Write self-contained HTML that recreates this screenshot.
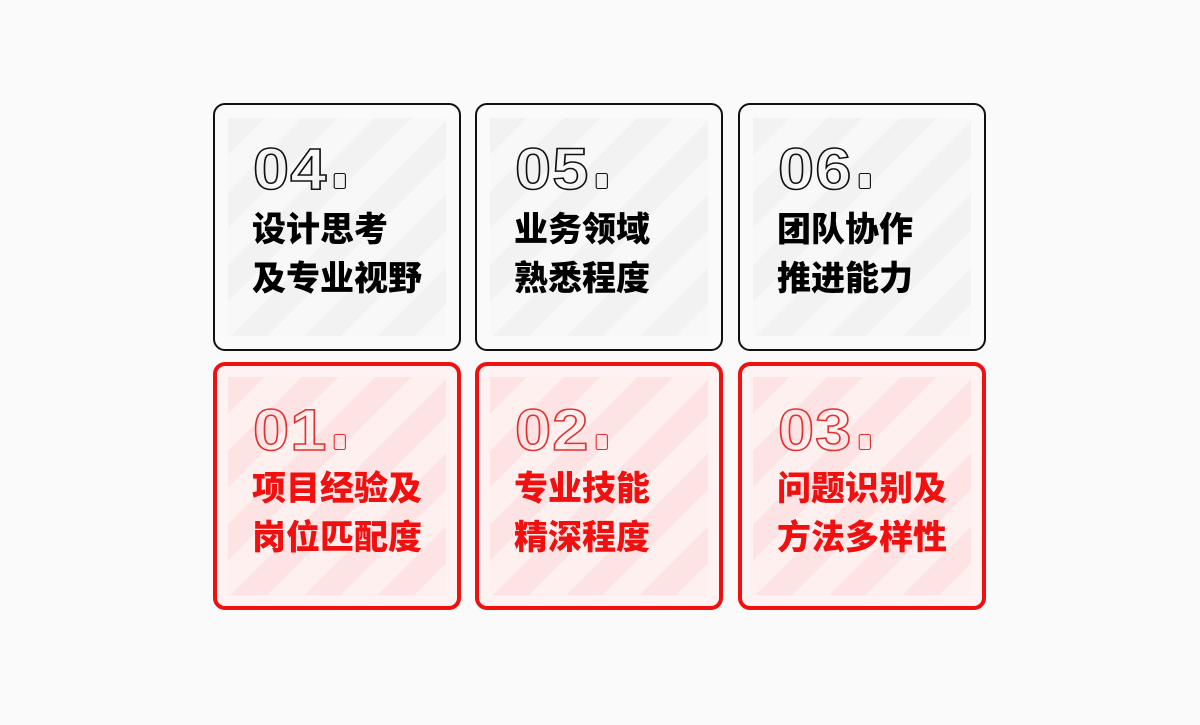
<!DOCTYPE html>
<html><head><meta charset="utf-8"><style>
body{margin:0;width:1200px;height:725px;background:#fafafa;position:relative;overflow:hidden;font-family:"Liberation Sans","Noto Sans CJK SC",sans-serif}
.c{position:absolute;width:248px;height:248px;border:2.5px solid #111;border-radius:12px;background:#fafafa;box-sizing:border-box}
.c .in{position:absolute;left:13px;top:13px;right:13px;bottom:13px;background:repeating-linear-gradient(135deg,#f2f2f2 0 26px,#f8f8f8 26px 52px)}
.c.r{border:4px solid #f01010;background:#fff2f2}
.c.r .in{left:11px;top:11px;right:11px;bottom:11px;background:repeating-linear-gradient(135deg,#fde3e3 0 26px,#fff0f0 26px 52px)}
.n{position:absolute;left:38px;top:30px;font-size:58px;font-weight:bold;color:transparent;-webkit-text-stroke:1.5px #111;letter-spacing:1px;line-height:70px;transform:scaleX(1.12);transform-origin:left}
.n span{display:inline-block;width:9px;height:14px;border:1.5px solid #111;border-radius:2px;margin-left:5px}
.r .n{-webkit-text-stroke:1.5px #e23030;left:36px}
.r .n span{border-color:#e23030}
.t{position:absolute;left:37px;top:97px;font-size:34px;font-weight:900;line-height:49px;color:#000;font-family:"Noto Sans CJK SC",sans-serif}
.r .t{color:#f01010;left:35px;top:95px}
</style></head><body>
<div class="c" style="left:213px;top:103px"><div class="in"></div><div class="n">04<span></span></div><div class="t">设计思考<br>及专业视野</div></div>
<div class="c" style="left:475px;top:103px"><div class="in"></div><div class="n">05<span></span></div><div class="t">业务领域<br>熟悉程度</div></div>
<div class="c" style="left:738px;top:103px"><div class="in"></div><div class="n">06<span></span></div><div class="t">团队协作<br>推进能力</div></div>
<div class="c r" style="left:213px;top:362px"><div class="in"></div><div class="n">01<span></span></div><div class="t">项目经验及<br>岗位匹配度</div></div>
<div class="c r" style="left:475px;top:362px"><div class="in"></div><div class="n">02<span></span></div><div class="t">专业技能<br>精深程度</div></div>
<div class="c r" style="left:738px;top:362px"><div class="in"></div><div class="n">03<span></span></div><div class="t">问题识别及<br>方法多样性</div></div>
</body></html>
